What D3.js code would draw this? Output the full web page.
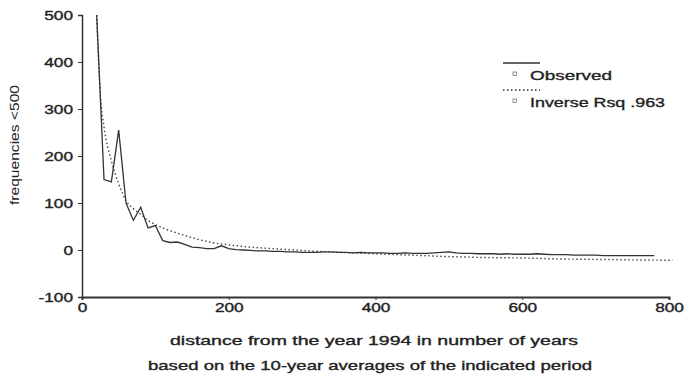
<!DOCTYPE html>
<html>
<head>
<meta charset="utf-8">
<script src="https://cdn.jsdelivr.net/npm/d3@7"></script>
<style>
  html, body { margin: 0; padding: 0; background: #fff; }
  svg { display: block; }
  text { font-family: "Liberation Sans", Arial, sans-serif; fill: #222; }
  .heavy { stroke: #222; stroke-width: 0.35px; }
</style>
</head>
<body>
<svg id="chart" width="689" height="377"></svg>
<script>
// ---- data ----
const obsX = [20,30,40,50,60,70,80,90,100,110,120,130,140,150,160,170,180,190,200,210,220,230,240,250,260,270,280,290,300,
  310,320,330,340,350,360,370,380,390,400,410,420,430,440,450,460,470,480,490,500,510,520,530,540,550,560,570,580,590,600,
  610,620,630,640,650,660,670,680,690,700,710,720,730,740,750,760,770,780];
const obsY = [500,150,145,255,100,63,91,47,52,20,16,17,12,6,5,3,3,9,3,1,0,-1,-2,-2,-3,-3,-4,-4,-5,
  -5,-5,-4,-4,-5,-5,-6,-5,-6,-6,-6,-7,-7,-6,-7,-7,-7,-6,-5,-4,-6,-7,-7,-8,-8,-8,-9,-8,-9,-9,
  -9,-8,-9,-10,-10,-10,-11,-11,-11,-11,-12,-12,-12,-12,-12,-12,-12,-12];
const fitX = [20,25,30,40,50,60,70,80,90,100,110,120,140,160,180,200,230,260,300,350,400,450,500,550,600,650,700,750,805];
const fitY = [500,330,262,190,141,105,88,76,63,54,47,41,31,22,15,11,6,3,-1,-5,-8,-11,-14,-16,-17,-19,-20,-21,-22];
const xTicks = [0,200,400,600,800];
const yTicks = [-100,0,100,200,300,400,500];
const legendLabels = ["Observed", "Inverse Rsq .963"];
const yTitle = "frequencies <500";
const xTitle1 = "distance from the year 1994 in number of years";
const xTitle2 = "based on the 10-year averages of the indicated period";

// ---- drawing ----
const svg = d3.select("#chart");
const x = d3.scaleLinear().domain([0, 800]).range([82, 669]);
const y = d3.scaleLinear().domain([-100, 500]).range([297, 15]);
const SX = 1.38; // horizontal stretch of the scanned lettering

// axes
const yAxis = d3.axisLeft(y).tickValues(yTicks).tickSize(4).tickPadding(5).tickFormat(d => String(d));
const gy = svg.append("g").attr("transform", `translate(${x(0)},0)`).call(yAxis);
gy.select(".domain").attr("stroke", "#333").attr("stroke-width", 1.5);
gy.selectAll(".tick line").attr("stroke", "#333");
gy.selectAll(".tick text").classed("heavy", true)
  .style("font-size", "12.5px").attr("fill", "#222")
  .attr("x", -9 / SX).attr("transform", `scale(${SX},1)`);

const xAxis = d3.axisBottom(x).tickValues(xTicks).tickSize(3).tickPadding(3).tickFormat(d => String(d));
const gx = svg.append("g").attr("transform", `translate(0,${y(-100)})`).call(xAxis);
gx.select(".domain").attr("stroke", "#333").attr("stroke-width", 2);
gx.selectAll(".tick line").attr("stroke", "#333");
gx.selectAll(".tick text").classed("heavy", true)
  .style("font-size", "12.5px").attr("fill", "#222")
  .attr("transform", `scale(${SX},1)`);

// fit (dotted)
const fitData = fitX.map((v, i) => [v, fitY[i]]);
svg.append("path").datum(fitData)
  .attr("fill", "none").attr("stroke", "#444").attr("stroke-width", 1.4)
  .attr("stroke-dasharray", "1.5,2.5")
  .attr("d", d3.line().x(d => x(d[0])).y(d => y(d[1])).curve(d3.curveMonotoneX));

// observed (solid)
const obsData = obsX.map((v, i) => [v, obsY[i]]);
svg.append("path").datum(obsData)
  .attr("fill", "none").attr("stroke", "#333").attr("stroke-width", 1.3)
  .attr("d", d3.line().x(d => x(d[0])).y(d => y(d[1])));

// titles
svg.append("text").attr("transform", "translate(19,145) rotate(-90)")
  .attr("text-anchor", "middle").style("font-size", "13px")
  .attr("textLength", 120).attr("lengthAdjust", "spacingAndGlyphs").text(yTitle);
svg.append("text").attr("x", 170).attr("y", 345).attr("class", "heavy")
  .style("font-size", "13px")
  .attr("textLength", 408).attr("lengthAdjust", "spacingAndGlyphs").text(xTitle1);
svg.append("text").attr("x", 148).attr("y", 370).attr("class", "heavy")
  .style("font-size", "13px")
  .attr("textLength", 444).attr("lengthAdjust", "spacingAndGlyphs").text(xTitle2);

// legend
const leg = svg.append("g");
const styles = [{dash: null, len: 82}, {dash: "1.5,2.5", len: 135}];
legendLabels.forEach((lab, i) => {
  const top = 63 + i * 27;
  leg.append("line").attr("x1", 503).attr("x2", 540).attr("y1", top).attr("y2", top)
    .attr("stroke", "#333").attr("stroke-width", 1.3)
    .attr("stroke-dasharray", styles[i].dash);
  leg.append("rect").attr("x", 513).attr("y", top + 9).attr("width", 3.5).attr("height", 3.5)
    .attr("fill", "none").attr("stroke", "#777").attr("stroke-width", 0.8);
  leg.append("text").attr("x", 530).attr("y", top + 17).attr("class", "heavy").style("font-size", "13px")
    .attr("textLength", styles[i].len).attr("lengthAdjust", "spacingAndGlyphs").text(lab);
});
</script>
</body>
</html>
